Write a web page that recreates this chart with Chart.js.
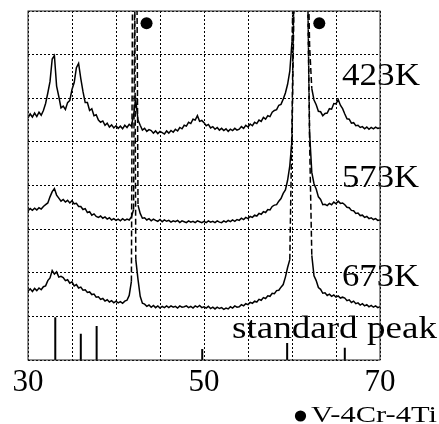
<!DOCTYPE html>
<html>
<head>
<meta charset="utf-8">
<script src="https://cdn.jsdelivr.net/npm/chart.js@4.4.0/dist/chart.umd.min.js"></script>
<style>
  html, body { margin: 0; padding: 0; background: #fff; }
</style>
</head>
<body>
<canvas id="GraficoXRD" width="439" height="424"></canvas>
<script>
// 2theta (deg), sampled every 0.25 from 30 to 70
const twoTheta = [];
for (let i = 0; i <= 160; i++) twoTheta.push(30 + i * 0.25);

// intensities (stacked, offset units)
const int423K = [
    5.55, 5.64, 5.57, 5.66, 5.58, 5.68, 5.61, 5.72,
    5.88, 6.12, 6.38, 6.9, 6.98, 6.28, 6.04, 5.78,
    5.82, 5.74, 5.9, 5.95, 6.2, 6.36, 6.7, 6.8,
    6.45, 6.15, 5.9, 5.9, 5.72, 5.76, 5.6, 5.62,
    5.5, 5.45, 5.48, 5.38, 5.43, 5.34, 5.39, 5.32,
    5.37, 5.31, 5.36, 5.3, 5.38, 5.33, 5.4, 5.36,
    5.62, 5.95, 5.5, 5.38, 5.27, 5.31, 5.24, 5.28,
    5.26, 5.2, 5.25, 5.19, 5.24, 5.21, 5.18, 5.25,
    5.2, 5.26, 5.22, 5.29, 5.25, 5.33, 5.3, 5.38,
    5.36, 5.45, 5.42, 5.52, 5.5, 5.6, 5.47, 5.49,
    5.44, 5.37, 5.4, 5.32, 5.35, 5.29, 5.33, 5.27,
    5.31, 5.26, 5.3, 5.24, 5.29, 5.26, 5.31, 5.27,
    5.29, 5.35, 5.31, 5.38, 5.34, 5.41, 5.37, 5.45,
    5.42, 5.5, 5.47, 5.56, 5.52, 5.6, 5.58, 5.68,
    5.72, 5.74, 5.84, 5.86, 5.98, 6.12, 6.32, 6.62,
    7.3, 9.5, 13, 16, 17, 16, 13, 10,
    7.2, 6.22, 5.96, 5.85, 5.7, 5.69, 5.6, 5.65,
    5.66, 5.76, 5.75, 5.88, 5.87, 5.97, 5.84, 5.76,
    5.64, 5.53, 5.52, 5.43, 5.44, 5.37, 5.38, 5.33,
    5.35, 5.3, 5.34, 5.29, 5.33, 5.3, 5.34, 5.31,
    5.32
];

const int573K = [
    3.42, 3.47, 3.43, 3.48, 3.44, 3.49, 3.46, 3.52,
    3.56, 3.6, 3.74, 3.86, 3.93, 3.78, 3.71, 3.64,
    3.68, 3.62, 3.66, 3.6, 3.65, 3.58, 3.59, 3.52,
    3.52, 3.45, 3.47, 3.38, 3.4, 3.32, 3.35, 3.29,
    3.27, 3.3, 3.25, 3.28, 3.23, 3.26, 3.21, 3.24,
    3.2, 3.23, 3.19, 3.24, 3.2, 3.23, 3.21, 3.28,
    3.45, 14, 3.55, 3.36, 3.25, 3.26, 3.21, 3.24,
    3.19, 3.23, 3.2, 3.18, 3.22, 3.17, 3.21, 3.18,
    3.2, 3.16, 3.19, 3.17, 3.2, 3.15, 3.19, 3.17,
    3.15, 3.19, 3.16, 3.18, 3.15, 3.19, 3.17, 3.15,
    3.18, 3.15, 3.19, 3.16, 3.18, 3.15, 3.19, 3.16,
    3.15, 3.19, 3.16, 3.2, 3.17, 3.21, 3.18, 3.22,
    3.2, 3.25, 3.22, 3.27, 3.24, 3.29, 3.27, 3.32,
    3.3, 3.36, 3.34, 3.4, 3.38, 3.45, 3.44, 3.52,
    3.55, 3.56, 3.64, 3.7, 3.82, 3.9, 4.12, 4.45,
    5.05, 8.5, 12, 15, 16, 15, 12, 9,
    5.2, 4.3, 4.04, 3.92, 3.74, 3.68, 3.56, 3.57,
    3.54, 3.59, 3.56, 3.62, 3.58, 3.64, 3.59, 3.6,
    3.56, 3.5, 3.49, 3.43, 3.42, 3.36, 3.37, 3.31,
    3.32, 3.27, 3.29, 3.24, 3.26, 3.22, 3.24, 3.2,
    3.21
];

const int673K = [
    1.58, 1.63, 1.57, 1.64, 1.59, 1.65, 1.61, 1.68,
    1.7, 1.82, 1.88, 2.05, 1.97, 2.02, 1.9, 1.92,
    1.89, 1.82, 1.84, 1.76, 1.79, 1.7, 1.73, 1.65,
    1.67, 1.6, 1.61, 1.55, 1.56, 1.5, 1.51, 1.44,
    1.45, 1.39, 1.41, 1.35, 1.38, 1.33, 1.36, 1.31,
    1.35, 1.31, 1.34, 1.3, 1.35, 1.37, 1.48, 1.8,
    15, 2.3, 1.85, 1.46, 1.3, 1.28, 1.23, 1.26,
    1.21, 1.25, 1.2, 1.24, 1.19, 1.23, 1.2, 1.24,
    1.2, 1.24, 1.21, 1.23, 1.19, 1.24, 1.21, 1.22,
    1.24, 1.2, 1.23, 1.19, 1.24, 1.21, 1.25, 1.2,
    1.22, 1.19, 1.23, 1.18, 1.21, 1.17, 1.21, 1.18,
    1.2, 1.16, 1.19, 1.17, 1.22, 1.19, 1.24, 1.21,
    1.22, 1.27, 1.24, 1.29, 1.27, 1.32, 1.3, 1.35,
    1.33, 1.39, 1.37, 1.43, 1.41, 1.47, 1.46, 1.53,
    1.52, 1.59, 1.6, 1.67, 1.73, 1.9, 2.12, 2.3,
    5.5, 9, 13, 16, 18, 16, 13, 9,
    5.0, 2.4, 1.93, 1.82, 1.66, 1.62, 1.53, 1.54,
    1.48, 1.51, 1.46, 1.49, 1.44, 1.47, 1.42, 1.44,
    1.42, 1.36, 1.38, 1.32, 1.35, 1.29, 1.31, 1.26,
    1.29, 1.24, 1.27, 1.22, 1.25, 1.21, 1.24, 1.2,
    1.22
];

// standard peak stick pattern
const stdPeakPos = [33.1, 36.0, 37.8, 49.8, 59.45, 66.0];
const stdPeakHeight = [0.98, 0.6, 0.78, 0.25, 0.39, 0.28];

// V-4Cr-4Ti markers
const markerPos = [43.47, 63.1];
const markerLevel = [7.72, 7.72];

const xTickLabels = [30, 50, 70];
const traceNames = ['423K', '573K', '673K'];

function pontos(valores) {
    return twoTheta.map(function (x, i) { return { x: x, y: valores[i] }; });
}

function pontosPadrao() {
    const d = [];
    stdPeakPos.forEach(function (p, i) {
        d.push({ x: p, y: 0 }, { x: p, y: stdPeakHeight[i] }, { x: p, y: null });
    });
    return d;
}

const serif = '"Liberation Serif", "Times New Roman", serif';

// text labels: [text, x, baseline y (data units), font px, target width px]
const rotulos = [
    [traceNames[0], 65.68, 6.31, 32, 78],
    [traceNames[1], 65.68, 3.97, 32, 77],
    [traceNames[2], 65.68, 1.70, 32, 77],
    ['standard peak', 53.18, 0.50, 32, 205]
];

function textoAjustado(ctx, texto, x, y, px, largura) {
    ctx.save();
    ctx.font = px + 'px ' + serif;
    const w = ctx.measureText(texto).width;
    ctx.translate(x, y);
    ctx.scale(largura / w, 1);
    ctx.fillText(texto, 0, 0);
    ctx.restore();
}

const extras = {
    id: 'extras',
    afterDatasetsDraw: function (chart) {
        const ctx = chart.ctx;
        const sx = chart.scales.x, sy = chart.scales.y;
        ctx.save();
        ctx.fillStyle = '#000';
        ctx.textBaseline = 'alphabetic';
        rotulos.forEach(function (r) {
            textoAjustado(ctx, r[0], sx.getPixelForValue(r[1]), sy.getPixelForValue(r[2]), r[3], r[4]);
        });
        ctx.restore();
    },
    afterDraw: function (chart) {
        const ctx = chart.ctx;
        const a = chart.chartArea;
        ctx.save();
        ctx.strokeStyle = '#222';
        ctx.lineWidth = 1;
        ctx.strokeRect(a.left, a.top, a.right - a.left, a.bottom - a.top);

        // legend
        ctx.fillStyle = '#000';
        ctx.beginPath();
        ctx.arc(300.5, 416, 5.6, 0, Math.PI * 2);
        ctx.fill();
        ctx.textBaseline = 'alphabetic';
        textoAjustado(ctx, 'V-4Cr-4Ti', 311, 421.5, 23, 126);
        ctx.restore();
    }
};

const estiloTraco = {
    borderColor: '#000',
    borderWidth: 1.5,
    pointRadius: 0,
    fill: false,
    tension: 0,
    segment: {
        borderDash: function (ctx) {
            return Math.abs(ctx.p1.y - ctx.p0.y) > 40 ? [6, 3] : undefined;
        }
    }
};

new Chart(document.getElementById('GraficoXRD'), {

    type: 'line',

    data: {
        datasets: [
            Object.assign({ label: traceNames[0], data: pontos(int423K) }, estiloTraco),
            Object.assign({ label: traceNames[1], data: pontos(int573K) }, estiloTraco),
            Object.assign({ label: traceNames[2], data: pontos(int673K) }, estiloTraco),
            {
                label: 'standard peak',
                data: pontosPadrao(),
                borderColor: '#000',
                borderWidth: 2,
                pointRadius: 0,
                spanGaps: false
            },
            {
                label: 'V-4Cr-4Ti',
                data: markerPos.map(function (x, i) { return { x: x, y: markerLevel[i] }; }),
                showLine: false,
                pointRadius: 6,
                pointBackgroundColor: '#000',
                pointBorderColor: '#000',
                pointBorderWidth: 0
            }
        ]
    },

    options: {
        responsive: false,
        animation: false,
        devicePixelRatio: 1,
        layout: { padding: { left: 28, right: 59, top: 11, bottom: 0 } },
        plugins: {
            legend: { display: false },
            tooltip: { enabled: false }
        },
        scales: {
            x: {
                type: 'linear',
                min: 30,
                max: 70,
                afterFit: function (escala) { escala.height = 64; },
                ticks: {
                    stepSize: 5,
                    autoSkip: false,
                    maxRotation: 0,
                    padding: 4,
                    color: '#000',
                    font: { family: serif, size: 31 },
                    callback: function (v) { return xTickLabels.indexOf(v) >= 0 ? String(v) : ''; }
                },
                grid: { color: '#000', lineWidth: 1, drawTicks: false },
                border: { display: false, dash: [2, 2] }
            },
            y: {
                min: 0,
                max: 8,
                afterFit: function (escala) { escala.width = 0; },
                ticks: { stepSize: 1, display: false },
                grid: { color: '#000', lineWidth: 1, drawTicks: false },
                border: { display: false, dash: [2, 2] }
            }
        }
    },

    plugins: [extras]
});
</script>
</body>
</html>
